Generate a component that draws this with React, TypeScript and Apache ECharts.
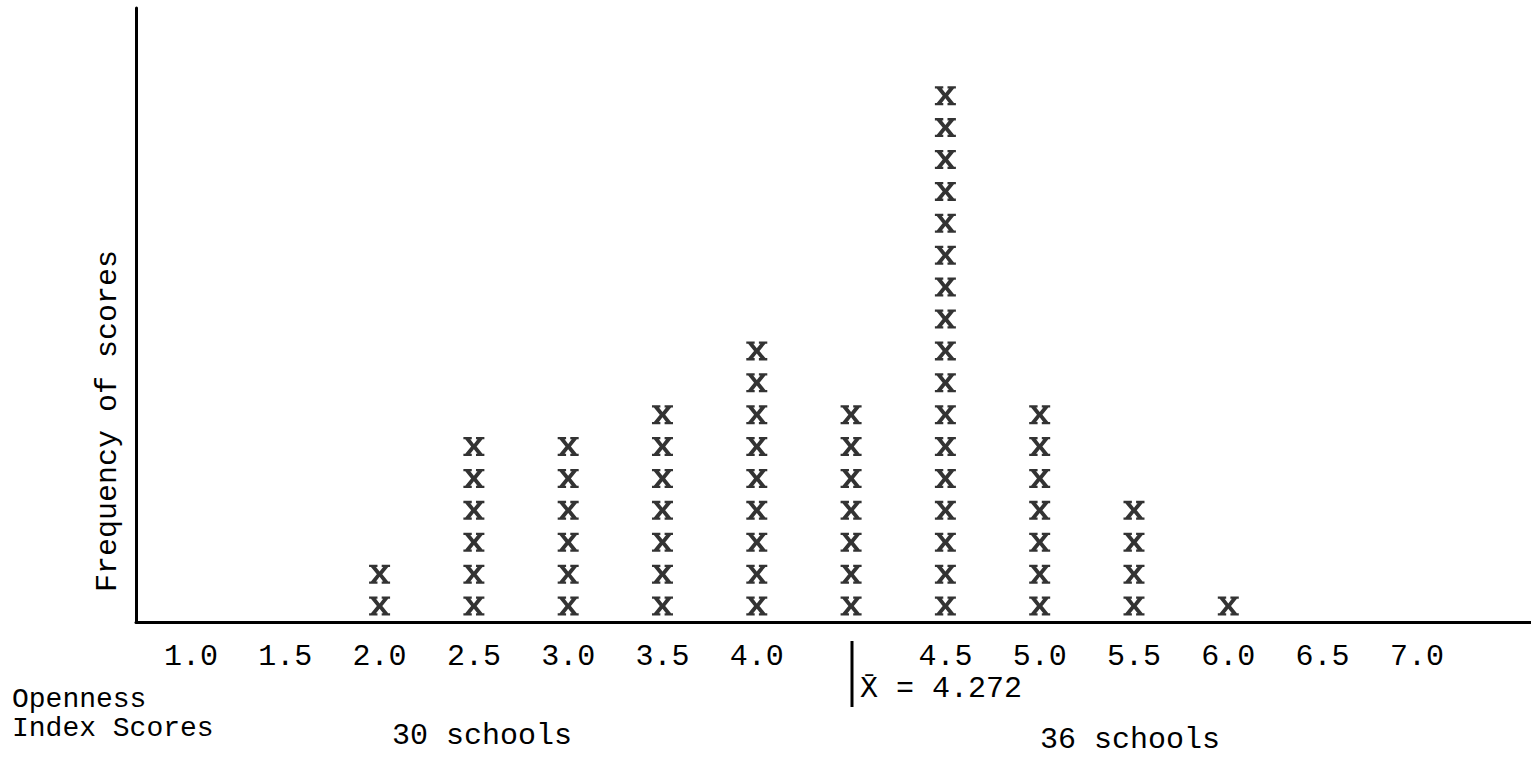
import React, { useEffect, useRef } from "react";
import * as echarts from "echarts";

// Score categories along the x axis (the unlabeled slot holds the column just right of the mean)
const categories = ["1.0", "1.5", "2.0", "2.5", "3.0", "3.5", "4.0", "", "4.5", "5.0", "5.5", "6.0", "6.5", "7.0"];
// Number of schools (X marks) stacked at each category
const counts = [0, 0, 2, 6, 6, 7, 9, 7, 17, 7, 4, 1, 0, 0];
const labelSlots = [0, 1, 2, 3, 4, 5, 6, 8, 9, 10, 11, 12, 13];
const meanText = "X\u0304 = 4.272";
const leftGroupText = "30 schools";
const rightGroupText = "36 schools";
const xAxisTitleLines = ["Openness", "Index Scores"];
const yAxisTitle = "Frequency of scores";

const FONT = "'Liberation Mono', 'DejaVu Sans Mono', monospace";
const X_MARK =
  "path://M0,0 L40,0 L40,12 L33,12 L50,36 L67,12 L60,12 L60,0 L100,0 L100,12 L91,12 L63,50 L91,88 L100,88 L100,100 L60,100 L60,88 L67,88 L50,64 L33,88 L40,88 L40,100 L0,100 L0,88 L9,88 L37,50 L9,12 L0,12 Z";

export default function App() {
  const ref = useRef<HTMLDivElement>(null);
  useEffect(() => {
    document.body.style.margin = "0";
    if (!ref.current) return;
    const chart = echarts.init(ref.current, undefined, { renderer: "svg" });
    const points: number[][] = [];
    counts.forEach((c, i) => {
      for (let k = 1; k <= c; k++) points.push([i, k - 0.5]);
    });
    chart.setOption({
      animation: false,
      backgroundColor: "#ffffff",
      grid: { left: 136, right: 0, top: 8, bottom: 139 },
      xAxis: {
        type: "value",
        min: -0.583,
        max: 14.21,
        splitLine: { show: false },
        axisTick: { show: false },
        axisLine: { show: true, onZero: false, lineStyle: { color: "#000", width: 3 } },
        axisLabel: {
          show: true,
          customValues: labelSlots,
          formatter: (v: number) => categories[Math.round(v)] ?? "",
          margin: 20,
          color: "#000",
          fontFamily: FONT,
          fontSize: 30,
          showMinLabel: true,
          showMaxLabel: true,
        },
      },
      yAxis: {
        type: "value",
        min: 0,
        max: 19.25,
        splitLine: { show: false },
        axisTick: { show: false },
        axisLabel: { show: false },
        axisLine: { show: true, onZero: false, lineStyle: { color: "#000", width: 3 } },
      },
      series: [
        {
          type: "scatter",
          data: points,
          symbol: X_MARK,
          symbolSize: [21, 19],
          itemStyle: { color: "#000" },
          clip: false,
        },
      ],
      graphic: [
        {
          type: "text",
          x: 108,
          y: 421,
          rotation: Math.PI / 2,
          style: {
            text: yAxisTitle,
            fill: "#000",
            font: `30px ${FONT}`,
            align: "center",
            verticalAlign: "middle",
          },
        },
        {
          type: "text",
          x: 12,
          y: 699,
          style: { text: xAxisTitleLines[0], fill: "#000", font: `28px ${FONT}`, align: "left", verticalAlign: "middle" },
        },
        {
          type: "text",
          x: 12,
          y: 728,
          style: { text: xAxisTitleLines[1], fill: "#000", font: `28px ${FONT}`, align: "left", verticalAlign: "middle" },
        },
        {
          type: "text",
          x: 392,
          y: 736,
          style: { text: leftGroupText, fill: "#000", font: `30px ${FONT}`, align: "left", verticalAlign: "middle" },
        },
        {
          type: "text",
          x: 1040,
          y: 740,
          style: { text: rightGroupText, fill: "#000", font: `30px ${FONT}`, align: "left", verticalAlign: "middle" },
        },
        {
          type: "text",
          x: 860,
          y: 689,
          style: { text: meanText, fill: "#000", font: `30px ${FONT}`, align: "left", verticalAlign: "middle" },
        },
        {
          type: "line",
          shape: { x1: 852, y1: 641, x2: 852, y2: 707 },
          style: { stroke: "#000", lineWidth: 3 },
        },
      ],
    });
    return () => chart.dispose();
  }, []);
  return <div ref={ref} style={{ width: 1531, height: 761 }} />;
}
